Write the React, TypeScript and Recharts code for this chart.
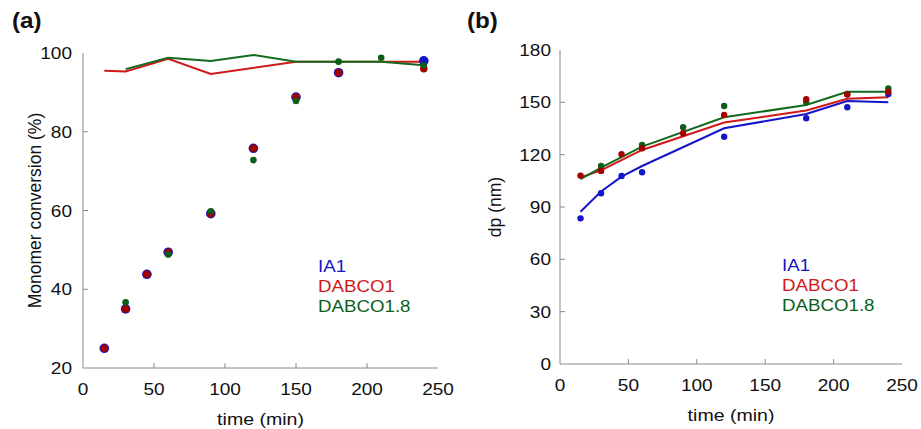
import React from 'react';
import { ComposedChart, Line, Scatter, XAxis, YAxis, Legend, Label } from 'recharts';

const FONT = '"Liberation Sans", Arial, Helvetica, sans-serif';
const AXIS = '#8a8a8a';
const TEXT = '#111';

const BLUE = '#1414c8';
const RED_DOT = '#a30000';
const RED = '#d01818';
const GREEN = '#0b5e18';
const GREEN_LINE = '#136a1e';

const timeTicks = [0, 50, 100, 150, 200, 250];
const convTicks = [20, 40, 60, 80, 100];
const dpTicks = [0, 30, 60, 90, 120, 150, 180];

// Panel (a) - monomer conversion (%)
const aTimeIA1 = [15, 30, 45, 60, 90, 120, 150, 180, 240];
const aIA1 = [25, 35, 43.8, 49.4, 59.2, 75.8, 88.8, 95, 98];
const aTimeDABCO1 = [15, 30, 45, 60, 90, 120, 150, 180, 240];
const aDABCO1 = [25, 35, 43.8, 49.4, 59.2, 75.8, 88.8, 95, 96];
const aTimeDABCO18 = [30, 60, 90, 120, 150, 180, 210, 240];
const aDABCO18 = [36.7, 48.8, 59.8, 72.8, 87.8, 97.8, 98.8, 96.9];

const aLineTimeDABCO1 = [15, 30, 60, 90, 150, 240];
const aLineDABCO1 = [95.5, 95.3, 98.5, 94.7, 97.8, 97.8];
const aLineTimeDABCO18 = [30, 60, 90, 120, 150, 210, 240];
const aLineDABCO18 = [95.9, 98.8, 98, 99.5, 97.8, 97.8, 96.9];

// Panel (b) - particle size dp (nm)
const bTimeIA1 = [15, 30, 45, 60, 120, 180, 210, 240];
const bIA1 = [83.5, 97.9, 107.8, 109.9, 130.3, 140.9, 147.2, 154.8];
const bTimeDABCO1 = [15, 30, 45, 60, 90, 120, 180, 210, 240];
const bDABCO1 = [108, 110.7, 120.2, 123.7, 132.3, 142.8, 151.8, 154.5, 156.1];
const bTimeDABCO18 = [30, 60, 90, 120, 180, 210, 240];
const bDABCO18 = [113.5, 125.6, 135.7, 147.9, 150, 154.8, 158];

const bLineTimeIA1 = [15, 30, 45, 60, 120, 180, 210, 240];
const bLineIA1 = [87.3, 98.9, 107.4, 113.5, 135.1, 143.3, 150.8, 150];
const bLineTimeDABCO1 = [15, 30, 60, 120, 180, 210, 240];
const bLineDABCO1 = [107, 111, 122.7, 138.4, 145.3, 152, 152.9];
const bLineTimeDABCO18 = [15, 30, 60, 120, 180, 210, 240];
const bLineDABCO18 = [106, 112.6, 124.6, 141.4, 148.5, 156.1, 156.1];

const legendItems = [
  { name: 'IA1', color: BLUE },
  { name: 'DABCO1', color: RED },
  { name: 'DABCO1.8', color: GREEN },
];

const zip = (xs: number[], ys: number[]) => xs.map((x, i) => ({ x, y: ys[i] }));

const X_MARGIN = 15;
const TICK_LEN = 5;
const TICK_FONT = 17;
const STRETCH = 1.12;

const makeBottomTick = (first: number, last: number) => (props: any) => {
  const { x, y, payload } = props;
  const v = payload.value;
  const axisY = y - X_MARGIN;
  return (
    <g>
      {v !== first && v !== last && (
        <line x1={x} x2={x} y1={axisY} y2={axisY - TICK_LEN} stroke={AXIS} strokeWidth={1} />
      )}
      <text
        transform={`translate(${x} ${y}) scale(${STRETCH} 1)`}
        x={0}
        y={0}
        dy="0.71em"
        textAnchor="middle"
        fontFamily={FONT}
        fontSize={TICK_FONT}
        fill={TEXT}
      >
        {v}
      </text>
    </g>
  );
};

const makeTopTick = (first: number, last: number) => (props: any) => {
  const { x, y, payload } = props;
  const v = payload.value;
  if (v === first || v === last) return <g />;
  return <line x1={x} x2={x} y1={y} y2={y + TICK_LEN} stroke={AXIS} strokeWidth={1} />;
};

const makeLeftTick = (first: number, last: number, margin: number) => (props: any) => {
  const { x, y, payload } = props;
  const v = payload.value;
  const axisX = x + margin;
  return (
    <g>
      {v !== first && v !== last && (
        <line x1={axisX} x2={axisX + TICK_LEN} y1={y} y2={y} stroke={AXIS} strokeWidth={1} />
      )}
      <text
        transform={`translate(${x} ${y}) scale(${STRETCH} 1)`}
        x={0}
        y={0}
        dy="0.355em"
        textAnchor="end"
        fontFamily={FONT}
        fontSize={TICK_FONT}
        fill={TEXT}
      >
        {v}
      </text>
    </g>
  );
};

const makeRightTick = (first: number, last: number) => (props: any) => {
  const { x, y, payload } = props;
  const v = payload.value;
  if (v === first || v === last) return <g />;
  return <line x1={x} x2={x - TICK_LEN} y1={y} y2={y} stroke={AXIS} strokeWidth={1} />;
};

const dot = (r: number, color: string) => (p: any) => <circle cx={p.cx} cy={p.cy} r={r} fill={color} />;

const LegendBox = () => (
  <div
    style={{
      fontFamily: FONT,
      fontSize: 17,
      lineHeight: '20px',
      whiteSpace: 'nowrap',
      transform: 'scaleX(1.1)',
      transformOrigin: 'left top',
    }}
  >
    {legendItems.map((it) => (
      <div key={it.name} style={{ color: it.color }}>
        {it.name}
      </div>
    ))}
  </div>
);

const yTitle = (text: string, cx: number) => (props: any) => {
  const vb = props.viewBox || {};
  const cy = (vb.y || 0) + (vb.height || 0) / 2;
  return (
    <text
      x={cx}
      y={cy}
      transform={`rotate(-90, ${cx}, ${cy})`}
      textAnchor="middle"
      dominantBaseline="central"
      fontFamily={FONT}
      fontSize={17.5}
      fill={TEXT}
    >
      {text}
    </text>
  );
};

const xTitle = (text: string) => (props: any) => {
  const vb = props.viewBox || {};
  const cx = (vb.x || 0) + (vb.width || 0) / 2;
  const y = (vb.y || 0) + (vb.height || 0) + 12;
  return (
    <text
      transform={`translate(${cx} ${y}) scale(1.15 1)`}
      x={0}
      y={0}
      textAnchor="middle"
      fontFamily={FONT}
      fontSize={17}
      fill={TEXT}
    >
      {text}
    </text>
  );
};

const axisLine = { stroke: AXIS, strokeWidth: 1 };

function PanelA() {
  return (
    <ComposedChart width={460} height={429} margin={{ top: 53, right: 22, bottom: 16, left: 23 }}>
      <XAxis
        xAxisId={0}
        dataKey="x"
        type="number"
        domain={[0, 250]}
        ticks={timeTicks}
        allowDataOverflow
        height={45}
        tickSize={0}
        tickMargin={X_MARGIN}
        axisLine={axisLine}
        tickLine={false}
        tick={makeBottomTick(0, 250)}
        interval={0}
      >
        <Label content={xTitle('time (min)')} />
      </XAxis>
      <XAxis
        xAxisId="t"
        orientation="top"
        dataKey="x"
        type="number"
        domain={[0, 250]}
        ticks={timeTicks}
        allowDataOverflow
        height={0}
        tickSize={0}
        tickMargin={0}
        axisLine={axisLine}
        tickLine={false}
        tick={makeTopTick(0, 250)}
        interval={0}
      />
      <YAxis
        yAxisId={0}
        type="number"
        domain={[20, 100]}
        ticks={convTicks}
        allowDataOverflow
        width={60}
        tickSize={0}
        tickMargin={11}
        axisLine={axisLine}
        tickLine={false}
        tick={makeLeftTick(20, 100, 11)}
        interval={0}
      >
        <Label content={yTitle('Monomer conversion (%)', 35)} />
      </YAxis>
      <YAxis
        yAxisId="r"
        orientation="right"
        type="number"
        domain={[20, 100]}
        ticks={convTicks}
        allowDataOverflow
        width={0}
        tickSize={0}
        tickMargin={0}
        axisLine={axisLine}
        tickLine={false}
        tick={makeRightTick(20, 100)}
        interval={0}
      />
      <Line
        data={zip(aLineTimeDABCO1, aLineDABCO1)}
        dataKey="y"
        type="linear"
        stroke={RED}
        strokeWidth={2}
        dot={false}
        activeDot={false}
        isAnimationActive={false}
      />
      <Line
        data={zip(aLineTimeDABCO18, aLineDABCO18)}
        dataKey="y"
        type="linear"
        stroke={GREEN_LINE}
        strokeWidth={2}
        dot={false}
        activeDot={false}
        isAnimationActive={false}
      />
      <Scatter data={zip(aTimeIA1, aIA1)} dataKey="y" shape={dot(4.8, BLUE)} isAnimationActive={false} />
      <Scatter data={zip(aTimeDABCO1, aDABCO1)} dataKey="y" shape={dot(3.8, RED_DOT)} isAnimationActive={false} />
      <Scatter data={zip(aTimeDABCO18, aDABCO18)} dataKey="y" shape={dot(3.3, GREEN)} isAnimationActive={false} />
      <Legend
        layout="horizontal"
        verticalAlign="middle"
        align="center"
        content={() => <LegendBox />}
        wrapperStyle={{ left: 318, top: 257, width: 'auto', height: 'auto' }}
      />
    </ComposedChart>
  );
}

function PanelB() {
  return (
    <ComposedChart width={461} height={429} margin={{ top: 50, right: 19, bottom: 20, left: 40 }}>
      <XAxis
        xAxisId={0}
        dataKey="x"
        type="number"
        domain={[0, 250]}
        ticks={timeTicks}
        allowDataOverflow
        height={45}
        tickSize={0}
        tickMargin={X_MARGIN}
        axisLine={axisLine}
        tickLine={false}
        tick={makeBottomTick(0, 250)}
        interval={0}
      >
        <Label content={xTitle('time (min)')} />
      </XAxis>
      <XAxis
        xAxisId="t"
        orientation="top"
        dataKey="x"
        type="number"
        domain={[0, 250]}
        ticks={timeTicks}
        allowDataOverflow
        height={0}
        tickSize={0}
        tickMargin={0}
        axisLine={axisLine}
        tickLine={false}
        tick={makeTopTick(0, 250)}
        interval={0}
      />
      <YAxis
        yAxisId={0}
        type="number"
        domain={[0, 180]}
        ticks={dpTicks}
        allowDataOverflow
        width={60}
        tickSize={0}
        tickMargin={9}
        axisLine={axisLine}
        tickLine={false}
        tick={makeLeftTick(0, 180, 9)}
        interval={0}
      >
        <Label content={yTitle('dp (nm)', 35)} />
      </YAxis>
      <YAxis
        yAxisId="r"
        orientation="right"
        type="number"
        domain={[0, 180]}
        ticks={dpTicks}
        allowDataOverflow
        width={0}
        tickSize={0}
        tickMargin={0}
        axisLine={axisLine}
        tickLine={false}
        tick={makeRightTick(0, 180)}
        interval={0}
      />
      <Line
        data={zip(bLineTimeIA1, bLineIA1)}
        dataKey="y"
        type="linear"
        stroke={BLUE}
        strokeWidth={2}
        dot={false}
        activeDot={false}
        isAnimationActive={false}
      />
      <Line
        data={zip(bLineTimeDABCO1, bLineDABCO1)}
        dataKey="y"
        type="linear"
        stroke={RED}
        strokeWidth={2}
        dot={false}
        activeDot={false}
        isAnimationActive={false}
      />
      <Line
        data={zip(bLineTimeDABCO18, bLineDABCO18)}
        dataKey="y"
        type="linear"
        stroke={GREEN_LINE}
        strokeWidth={2}
        dot={false}
        activeDot={false}
        isAnimationActive={false}
      />
      <Scatter data={zip(bTimeIA1, bIA1)} dataKey="y" shape={dot(3.2, BLUE)} isAnimationActive={false} />
      <Scatter data={zip(bTimeDABCO18, bDABCO18)} dataKey="y" shape={dot(3.2, GREEN)} isAnimationActive={false} />
      <Scatter data={zip(bTimeDABCO1, bDABCO1)} dataKey="y" shape={dot(3.2, RED_DOT)} isAnimationActive={false} />
      <Legend
        layout="horizontal"
        verticalAlign="middle"
        align="center"
        content={() => <LegendBox />}
        wrapperStyle={{ left: 322, top: 256, width: 'auto', height: 'auto' }}
      />
    </ComposedChart>
  );
}

const panelLabel: React.CSSProperties = {
  position: 'absolute',
  top: 10,
  fontFamily: FONT,
  fontWeight: 'bold',
  fontSize: 22,
  lineHeight: '22px',
  color: '#151010',
  transform: 'scaleX(1.1)',
  transformOrigin: 'left top',
};

export default function App() {
  return (
    <div style={{ position: 'absolute', left: 0, top: 0, width: 921, height: 429, background: '#fff', overflow: 'hidden' }}>
      <div style={{ position: 'absolute', left: 0, top: 0 }}>
        <PanelA />
      </div>
      <div style={{ position: 'absolute', left: 460, top: 0 }}>
        <PanelB />
      </div>
      <div style={{ ...panelLabel, left: 12 }}>(a)</div>
      <div style={{ ...panelLabel, left: 467 }}>(b)</div>
    </div>
  );
}
